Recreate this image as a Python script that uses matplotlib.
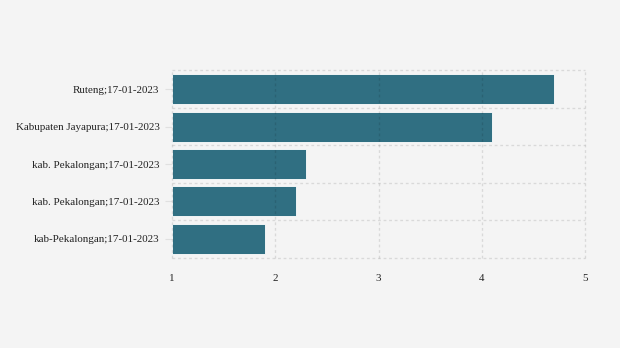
import numpy as np
import matplotlib.pyplot as plt

labels = ['Ruteng;17-01-2023', 'Kabupaten Jayapura;17-01-2023',
          'kab. Pekalongan;17-01-2023', 'kab. Pekalongan;17-01-2023',
          'kab-Pekalongan;17-01-2023']
values = [4.7, 4.1, 2.3, 2.2, 1.9]
xticks = [1, 2, 3, 4, 5]

plt.rcParams['font.family'] = ['Liberation Serif', 'DejaVu Serif']

fig = plt.figure(figsize=(6.2, 3.48), dpi=100, facecolor='#f4f4f4')
ax = fig.add_axes([172/620, 1 - 257.5/348, (585 - 172)/620, (257.5 - 70.5)/348])
ax.set_facecolor('#f4f4f4')

y = np.arange(len(labels))
base = xticks[0]
ax.barh(y, np.array(values) - base, left=base, height=0.8,
        color='#306f82', edgecolor='#ffffff', linewidth=0.6, zorder=1)

ax.set_xlim(xticks[0], xticks[-1])
ax.set_ylim(len(labels) - 0.5, -0.5)
ax.set_xticks(xticks)
ax.set_yticks(y)
ax.set_yticklabels(labels, va='center_baseline')

# dotted grid: verticals at the x ticks, horizontals between categories
grid_kw = dict(color=(0, 0, 0, 0.11), linestyle=(0, (2, 2)), linewidth=1,
               zorder=2, clip_on=False)
for xv in xticks:
    ax.axvline(xv, **grid_kw)
for yv in np.arange(len(labels) + 1) - 0.5:
    ax.axhline(yv, **grid_kw)

for s in ax.spines.values():
    s.set_visible(False)

ax.tick_params(axis='x', length=0, pad=12, labelsize=7.9, labelcolor='#222222')
ax.tick_params(axis='y', length=5, color='#e0e0e0', pad=4,
               labelsize=7.9, labelcolor='#222222')

fig.savefig('out.png', dpi=100, facecolor=fig.get_facecolor())
